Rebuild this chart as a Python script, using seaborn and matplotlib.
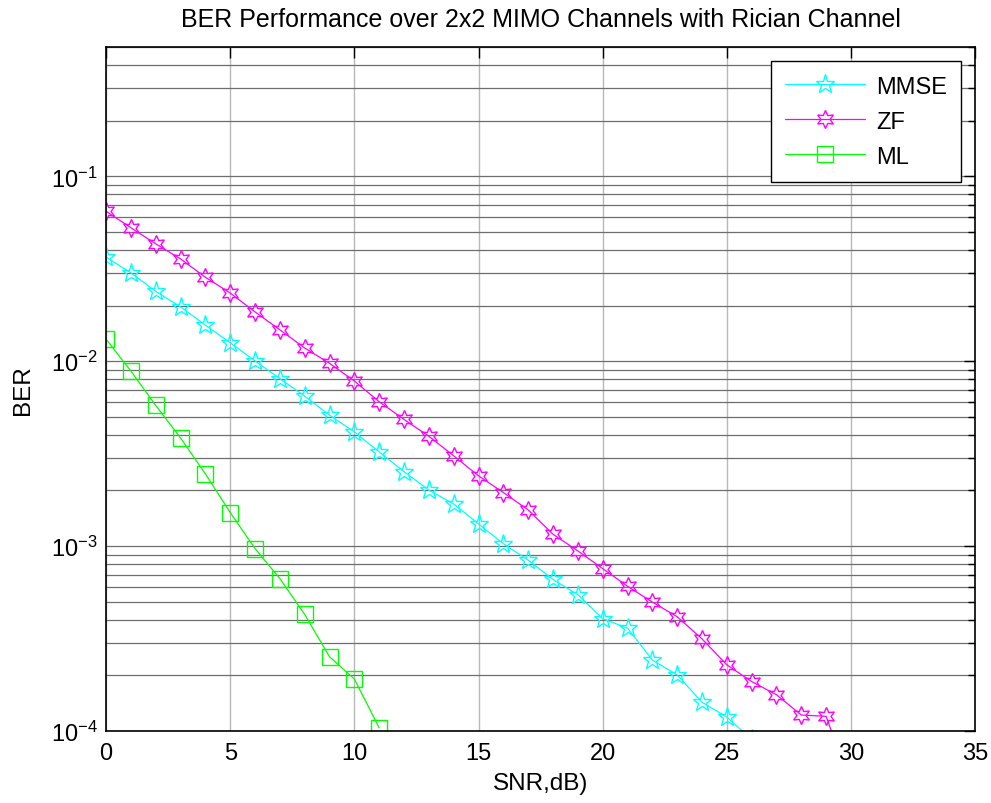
import numpy as np
import pandas as pd
import seaborn as sns
import matplotlib.pyplot as plt
from matplotlib.ticker import LogLocator, NullFormatter, FixedLocator

# valores (SNR em dB)
snr_mmse = list(range(0, 27))
ber_mmse = [0.0366, 0.0301, 0.0239, 0.0197, 0.0157, 0.0126, 0.01005, 0.00805,
            0.00648, 0.00511, 0.00415, 0.00323, 0.00253, 0.00201, 0.00169,
            0.00132, 0.00103, 0.00084, 0.00066, 0.000546, 0.000405, 0.000360,
            0.000242, 0.000201, 0.000143, 0.000119, 0.00009]

snr_zf = list(range(0, 31))
ber_zf = [0.0648, 0.0528, 0.0432, 0.0358, 0.0285, 0.0234, 0.0185, 0.0148,
          0.0118, 0.00975, 0.00782, 0.00604, 0.00485, 0.00393, 0.00308,
          0.00240, 0.00195, 0.00157, 0.00116, 0.000942, 0.000756, 0.000607,
          0.000498, 0.000415, 0.000315, 0.000228, 0.000185, 0.000157,
          0.000122, 0.000120, 0.00005]

snr_ml = list(range(0, 12))
ber_ml = [0.01318, 0.00886, 0.00577, 0.00385, 0.00246, 0.00152, 0.00097,
          0.000667, 0.000427, 0.000252, 0.000191, 0.000104]

sns.set_style("white")
plt.rcParams['font.family'] = ['Liberation Sans', 'DejaVu Sans']
plt.rcParams['mathtext.fontset'] = 'custom'
plt.rcParams['mathtext.rm'] = 'Liberation Sans'
plt.rcParams['mathtext.it'] = 'Liberation Sans'
plt.rcParams['text.color'] = 'black'
plt.rcParams['axes.labelcolor'] = 'black'
plt.rcParams['axes.unicode_minus'] = False

fig = plt.figure(figsize=(9.91, 8.04), dpi=100)
ax = fig.add_axes([0.107, 0.0896, 0.877, 0.8504])

hexagrama = (6, 1, 0)
series = [
    ("MMSE", snr_mmse, ber_mmse, "#00ffff", "*", 14),
    ("ZF", snr_zf, ber_zf, "#ff00ff", hexagrama, 13),
    ("ML", snr_ml, ber_ml, "#00ff00", "s", 11.5),
]
for nome, x, y, cor, mk, ms in series:
    df = pd.DataFrame({"snr": x, "ber": y})
    sns.lineplot(data=df, x="snr", y="ber", ax=ax, color=cor, marker=mk,
                 markersize=ms, mfc="none", mec=cor, mew=1.0, lw=0.9,
                 label=nome)

ax.set_yscale("log")
ax.set_xlim(0, 35)
ax.set_ylim(1e-4, 0.5)
ax.xaxis.set_major_locator(FixedLocator(range(0, 36, 5)))
ax.yaxis.set_major_locator(LogLocator(base=10, numticks=10))
ax.yaxis.set_minor_locator(LogLocator(base=10, subs=np.arange(2, 10), numticks=20))
ax.yaxis.set_minor_formatter(NullFormatter())

ax.grid(True, which="major", axis="x", color="#b8b8b8", lw=1.0)
ax.grid(True, which="both", axis="y", color="#6e6e6e", lw=0.9)

for s in ax.spines.values():
    s.set_color("black")
    s.set_linewidth(1.2)
ax.tick_params(which="both", direction="in", top=True, right=True,
               labelsize=17, colors="black")
ax.tick_params(which="major", length=8, width=1.0)
ax.tick_params(which="minor", length=5, width=1.0)
ax.tick_params(axis="x", pad=8)
ax.tick_params(axis="y", pad=6)

ax.set_title("BER Performance over 2x2 MIMO Channels with Rician Channel",
             fontsize=18, pad=15)
ax.set_xlabel("SNR,dB)", fontsize=17.5, labelpad=6)
ax.set_ylabel("BER", fontsize=17.5, labelpad=12)

leg = ax.legend(loc="upper right", fontsize=17, fancybox=False,
                edgecolor="black", framealpha=1, handlelength=3.4,
                handletextpad=0.45, labelspacing=0.55, borderpad=0.6,
                borderaxespad=0.6)
leg.get_frame().set_linewidth(1.0)

plt.savefig("out.png", dpi=100)
